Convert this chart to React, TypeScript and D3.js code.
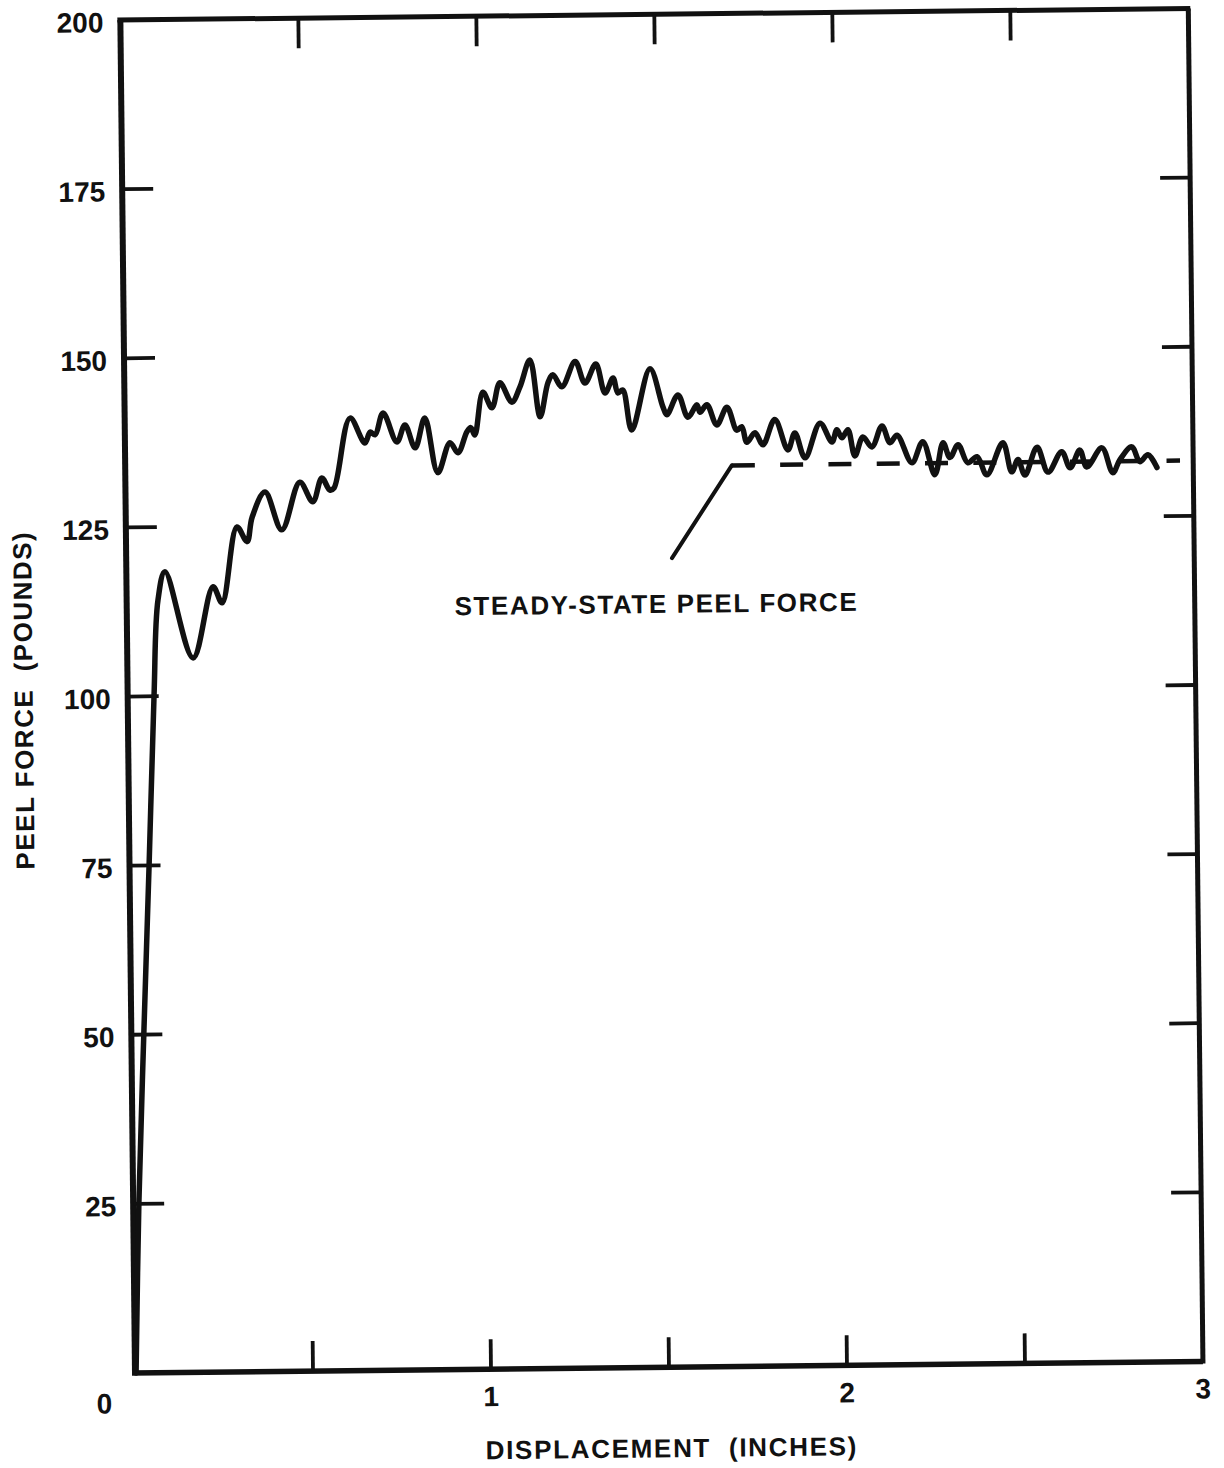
import React from "react";
import * as d3 from "d3";

// ---- data ----
const displacement = [
  0.003, 0.016, 0.035, 0.055, 0.074, 0.088, 0.1086, 0.185, 0.243, 0.268, 0.312, 0.34, 0.355,
  0.392, 0.438, 0.49, 0.526, 0.552, 0.574, 0.586, 0.633, 0.674, 0.689, 0.703, 0.726, 0.764,
  0.787, 0.815, 0.843, 0.878, 0.913, 0.935, 0.961, 0.972, 0.983, 1.007, 1.032, 1.055, 1.088,
  1.111, 1.14, 1.167, 1.19, 1.204, 1.229, 1.267, 1.294, 1.325, 1.35, 1.373, 1.386, 1.4, 1.424,
  1.477, 1.512, 1.523, 1.555, 1.582, 1.608, 1.616, 1.636, 1.663, 1.692, 1.719, 1.733, 1.747,
  1.77, 1.792, 1.826, 1.862, 1.882, 1.91, 1.953, 1.986, 2.0, 2.014, 2.031, 2.05, 2.073, 2.098,
  2.127, 2.149, 2.169, 2.21, 2.241, 2.274, 2.298, 2.317, 2.34, 2.367, 2.393, 2.42, 2.466, 2.49,
  2.508, 2.527, 2.562, 2.592, 2.631, 2.654, 2.682, 2.701, 2.744, 2.774, 2.794, 2.828, 2.85,
  2.873, 2.898,
];
const peelForce = [
  0, 25, 50, 75, 100, 114.2, 118.4, 105.6, 116.1, 113.7, 124.9, 122.7, 126.3,
  130.0, 124.4, 131.4, 128.5, 132.0, 130.2, 130.5, 140.8, 137.1, 138.7, 138.3, 141.5, 137.2,
  139.7, 136.3, 140.7, 132.6, 137.0, 135.5, 138.6, 139.2, 138.1, 144.4, 142.1, 145.8, 142.9,
  145.1, 149.1, 140.7, 145.7, 146.9, 145.1, 148.8, 145.6, 148.4, 144.1, 146.3, 144.1, 144.5, 138.6,
  147.6, 142.0, 140.8, 143.7, 140.4, 142.2, 141.1, 142.2, 139.2, 141.8, 138.4, 138.9, 136.6,
  138.0, 136.2, 139.9, 135.4, 137.9, 134.2, 139.3, 136.5, 138.3, 137.1, 138.3, 134.4, 137.2, 135.7,
  138.8, 136.3, 137.4, 133.3, 136.4, 131.5, 136.2, 134.0, 135.9, 133.2, 134.1, 131.4, 136.1, 131.8,
  133.6, 131.3, 135.4, 131.7, 134.7, 132.3, 134.9, 132.4, 135.2, 131.5, 133.4, 135.3, 133.1,
  134.1, 132.2,
];

const yTickValues = [25, 50, 75, 100, 125, 150, 175];
const yTickLabels = ["25", "50", "75", "100", "125", "150", "175"];
const xTickValues = [0.5, 1, 1.5, 2, 2.5];
const xLabelValues = [1, 2, 3];
const xLabelTexts = ["1", "2", "3"];

const steadyStateForce = 133.2;
const steadyStart = 1.704;
const steadyEnd = 2.963;
const leaderFrom = [1.533, 119.6];
const annotationText = "STEADY-STATE PEEL FORCE";
const annotationPos = [1.488, 111.5];

export default function App() {
  const W = 1068;
  const H = 1353;
  const x = d3.scaleLinear().domain([0, 3]).range([0, W]);
  const y = d3.scaleLinear().domain([0, 200]).range([0, -H]);

  const pts = displacement.map((d, i) => [d, peelForce[i]] as [number, number]);
  const line = d3
    .line<[number, number]>()
    .x((d) => x(d[0]))
    .y((d) => y(d[1]))
    .curve(d3.curveCatmullRom.alpha(0.5));

  const ink = "#111";
  const font = "'Liberation Sans', Arial, Helvetica, sans-serif";

  return (
    <svg
      width={1224}
      height={1468}
      style={{ position: "absolute", left: 0, top: 0, background: "#fff" }}
      fontFamily={font}
      fontWeight="bold"
    >
      <rect width={1224} height={1468} fill="#fff" />
      <g transform="translate(135,1373) rotate(-0.62)" fill={ink}>
        {/* frame */}
        <line x1={0} y1={-H} x2={0} y2={0} stroke={ink} strokeWidth={6} />
        <line x1={-3} y1={0} x2={W} y2={0} stroke={ink} strokeWidth={5.5} />
        <line x1={-3} y1={-H} x2={W + 2} y2={-H} stroke={ink} strokeWidth={5} />
        <line x1={W} y1={-H} x2={W} y2={2} stroke={ink} strokeWidth={5} />

        {/* y ticks */}
        {yTickValues.map((v) => (
          <g key={"yt" + v}>
            <line x1={0} x2={31} y1={y(v)} y2={y(v)} stroke={ink} strokeWidth={3.8} />
            <line x1={W - 30} x2={W} y1={y(v)} y2={y(v)} stroke={ink} strokeWidth={3.8} />
          </g>
        ))}
        {/* x ticks */}
        {xTickValues.map((v) => (
          <g key={"xt" + v}>
            <line x1={x(v)} x2={x(v)} y1={0} y2={-30} stroke={ink} strokeWidth={3.8} />
            <line x1={x(v)} x2={x(v)} y1={-H} y2={-H + 30} stroke={ink} strokeWidth={3.8} />
          </g>
        ))}

        {/* y tick labels */}
        {yTickValues.map((v, i) => (
          <text key={"yl" + v} x={-17} y={y(v) + 12} textAnchor="end" fontSize={28}>
            {yTickLabels[i]}
          </text>
        ))}
        <text x={-17} y={y(200) + 12} textAnchor="end" fontSize={28}>
          200
        </text>
        <text x={-31} y={40} textAnchor="middle" fontSize={28}>
          0
        </text>
        {/* x tick labels */}
        {xLabelValues.map((v, i) => (
          <text key={"xl" + v} x={x(v)} y={37} textAnchor="middle" fontSize={28}>
            {xLabelTexts[i]}
          </text>
        ))}

        {/* axis titles */}
        <text
          x={536}
          y={90}
          textAnchor="middle"
          fontSize={26}
          letterSpacing={1.7}
          style={{ whiteSpace: "pre" }}
        >
          DISPLACEMENT  (INCHES)
        </text>
        <text
          transform={`translate(-104,-674) rotate(-90)`}
          textAnchor="middle"
          dy={9}
          fontSize={26}
          letterSpacing={1.5}
          style={{ whiteSpace: "pre" }}
        >
          PEEL FORCE  (POUNDS)
        </text>

        {/* curve */}
        <path
          d={line(pts) || ""}
          fill="none"
          stroke={ink}
          strokeWidth={5.5}
          strokeLinejoin="round"
          strokeLinecap="round"
        />

        {/* steady-state annotation */}
        <line
          x1={x(steadyStart)}
          x2={x(steadyEnd)}
          y1={y(steadyStateForce)}
          y2={y(steadyStateForce)}
          stroke={ink}
          strokeWidth={4.5}
          strokeDasharray="23 25.3"
        />
        <line
          x1={x(leaderFrom[0])}
          y1={y(leaderFrom[1])}
          x2={x(steadyStart)}
          y2={y(steadyStateForce)}
          stroke={ink}
          strokeWidth={4}
          strokeLinecap="round"
        />
        <text
          x={x(annotationPos[0])}
          y={y(annotationPos[1])}
          textAnchor="middle"
          fontSize={26}
          letterSpacing={1.6}
        >
          {annotationText}
        </text>
      </g>
    </svg>
  );
}
